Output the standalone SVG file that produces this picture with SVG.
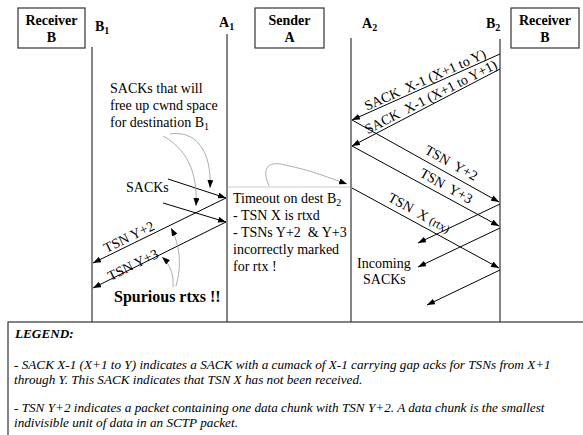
<svg xmlns="http://www.w3.org/2000/svg" width="583" height="435" viewBox="0 0 583 435">
<defs>
<marker id="ah" markerWidth="8" markerHeight="6" refX="8" refY="3" orient="auto" markerUnits="userSpaceOnUse">
<path d="M0,0 L8,3 L0,6 Z" fill="#000"/>
</marker>
<style>
.t{font-family:"Liberation Serif","Times New Roman",serif;font-size:14px;fill:#000;white-space:pre}
.hb{font-family:"Liberation Serif","Times New Roman",serif;font-size:14px;font-weight:bold;fill:#000}
.sp{font-family:"Liberation Serif","Times New Roman",serif;font-size:16px;font-weight:bold;fill:#000}
.sub{font-size:10px}
.box{fill:#fff;stroke:#333;stroke-width:1.2}
.life{stroke:#333;stroke-width:1.2}
.msg{stroke:#000;stroke-width:1;fill:none;marker-end:url(#ah)}
.note{stroke:#999;stroke-width:0.8;fill:none;marker-end:url(#ah)}
.lg{font-family:"Liberation Serif","Times New Roman",serif;font-size:13.2px;font-style:italic;fill:#000}
</style>
</defs>
<rect width="583" height="435" fill="#fff"/>
<g id="receiver-left"><rect class="box" x="18" y="8" width="67" height="40"/><text class="hb" x="51.5" y="25" text-anchor="middle">Receiver</text><text class="hb" x="51.5" y="42" text-anchor="middle">B</text></g>
<g id="sender"><rect class="box" x="255" y="8" width="69" height="40"/><text class="hb" x="289.5" y="25" text-anchor="middle">Sender</text><text class="hb" x="289.5" y="42" text-anchor="middle">A</text></g>
<g id="receiver-right"><rect class="box" x="511" y="8" width="68" height="40"/><text class="hb" x="545" y="25" text-anchor="middle">Receiver</text><text class="hb" x="545" y="42" text-anchor="middle">B</text></g>
<g id="lifeline-B1"><line class="life" x1="92" y1="47" x2="92" y2="322"/><text class="hb" x="95" y="31">B<tspan class="sub" dy="3">1</tspan></text></g>
<g id="lifeline-A1"><line class="life" x1="227" y1="34" x2="227" y2="322"/><text class="hb" x="219" y="27">A<tspan class="sub" dy="3">1</tspan></text></g>
<g id="lifeline-A2"><line class="life" x1="351" y1="38" x2="351" y2="322"/><text class="hb" x="362" y="28">A<tspan class="sub" dy="3">2</tspan></text></g>
<g id="lifeline-B2"><line class="life" x1="500" y1="39" x2="500" y2="322"/><text class="hb" x="486" y="28">B<tspan class="sub" dy="3">2</tspan></text></g>
<g id="connectors">
<line class="msg" x1="500" y1="54" x2="352" y2="120"/>
<line class="msg" x1="500" y1="69" x2="352" y2="146"/>
<line class="msg" x1="352" y1="120" x2="499" y2="202"/>
<line class="msg" x1="352" y1="146" x2="499" y2="226"/>
<line class="msg" x1="352" y1="188" x2="499" y2="268"/>
<line class="msg" x1="500" y1="204" x2="418" y2="243"/>
<line class="msg" x1="500" y1="228" x2="418" y2="267"/>
<line class="msg" x1="500" y1="270" x2="427" y2="305"/>
<line class="msg" x1="168" y1="179" x2="226" y2="198"/>
<line class="msg" x1="163" y1="203" x2="226" y2="222"/>
<line class="msg" x1="226" y1="198" x2="93" y2="263"/>
<line class="msg" x1="226" y1="222" x2="93" y2="288"/>
<line x1="228" y1="187" x2="350" y2="187" stroke="#bbb" stroke-width="0.8"/>
<path class="note" d="M269,186 C262,170 266,160 285,165 C310,170 330,178 347,184"/>
<path class="note" d="M163,136 C185,148 198,170 196,206"/>
<path class="note" d="M170,134 C195,130 212,150 210,188"/>
<path class="note" d="M176,286 C182,265 180,245 171,228"/>
<path class="note" d="M173,287 C174,275 170,264 162,257"/>
</g>
<g id="labels">
<text class="t" xml:space="preserve" transform="translate(427,84) rotate(-24)" text-anchor="middle">SACK  X-1 (X+1 to Y)</text>
<text class="t" xml:space="preserve" transform="translate(433,101) rotate(-27)" text-anchor="middle">SACK  X-1 (X+1 to Y+1)</text>
<text class="t" xml:space="preserve" transform="translate(449,167) rotate(29)" text-anchor="middle">TSN  Y+2</text>
<text class="t" xml:space="preserve" transform="translate(444,190) rotate(29)" text-anchor="middle">TSN  Y+3</text>
<text class="t" xml:space="preserve" transform="translate(417,217) rotate(29)" text-anchor="middle">TSN  X <tspan font-size="12">(rtx)</tspan></text>
<text class="t" transform="translate(131,241) rotate(-26)" text-anchor="middle">TSN Y+2</text>
<text class="t" transform="translate(135,269) rotate(-26)" text-anchor="middle">TSN Y+3</text>
<text class="t" x="357" y="268">Incoming</text>
<text class="t" x="363" y="284">SACKs</text>
<text class="t" x="126" y="192">SACKs</text>
<text class="t" x="110" y="93">SACKs that will</text>
<text class="t" x="110" y="110">free up cwnd space</text>
<text class="t" x="110" y="127">for destination B<tspan class="sub" dy="3">1</tspan></text>
<text class="t" x="233" y="203">Timeout on dest B<tspan class="sub" dy="3">2</tspan></text>
<text class="t" x="233" y="220">- TSN X is rtxd</text>
<text class="t" xml:space="preserve" x="233" y="237">- TSNs Y+2  &amp; Y+3</text>
<text class="t" x="233" y="254">incorrectly marked</text>
<text class="t" x="233" y="271">for rtx !</text>
<text class="sp" x="114" y="302">Spurious rtxs !!</text>
</g>
<g id="legend">
<rect x="8" y="322" width="580" height="120" fill="#fff" stroke="#333" stroke-width="1.2"/>
<text class="lg" x="15" y="338" font-weight="bold">LEGEND:</text>
<text class="lg" x="14" y="369">- SACK X-1 (X+1 to Y) indicates a SACK with a cumack of X-1 carrying gap acks for TSNs from X+1</text>
<text class="lg" x="14" y="384">through Y. This SACK indicates that TSN X has not been received.</text>
<text class="lg" x="14" y="412">- TSN Y+2 indicates a packet containing one data chunk with TSN Y+2. A data chunk is the smallest</text>
<text class="lg" x="14" y="427">indivisible unit of data in an SCTP packet.</text>
</g>
</svg>
